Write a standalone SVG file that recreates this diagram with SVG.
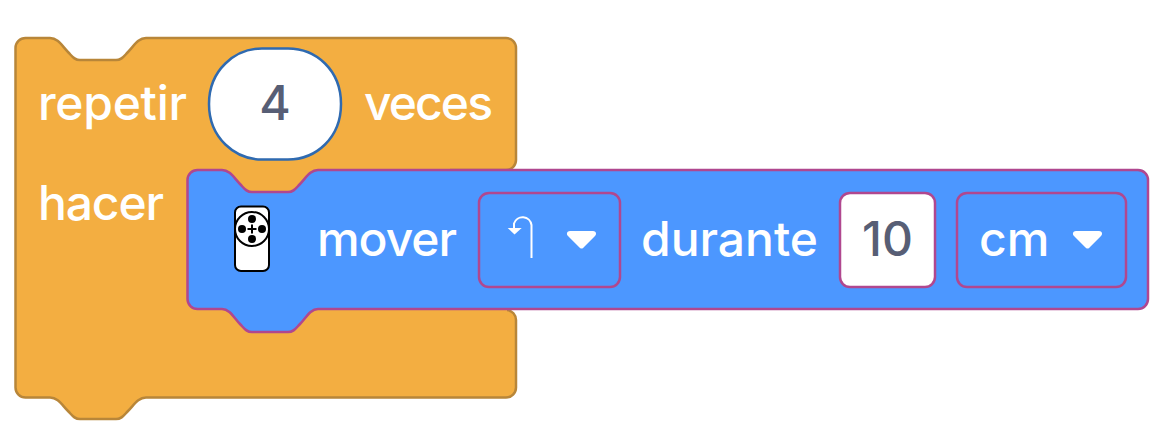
<svg xmlns="http://www.w3.org/2000/svg" width="1166" height="444" viewBox="0 0 1166 444">
<style>
text{font-family:"Inter","Liberation Sans",sans-serif;font-size:48px;font-weight:500}
.w{fill:#fff}.d{fill:#575e75;text-anchor:middle}
.of{fill:#f3ae41;stroke:none}.os{fill:none;stroke:#b88639;stroke-width:2.5}
.bl{fill:#4c97ff;stroke:#b0478f;stroke-width:2.5}
.dd{fill:none;stroke:#b0478f;stroke-width:2.5}
.num{fill:#fff;stroke:#b0478f;stroke-width:2.5}
</style>
<g id="repeat-block">
<path class="of" d="M15.5 48a10 10 0 0 1 10-10H50C58 38 62 46 68 52C72 56 74 60 80 60H116C122 60 124 56 128 52C134 46 138 38 146 38H506a10 10 0 0 1 10 10V160a10 10 0 0 1-10 10H400V310H506a10 10 0 0 1 10 10V387.500a10 10 0 0 1-10 10H146C138 397.500 134 405 128 411C124 415 122 419 116 419H80C74 419 72 415 68 411C62 405 58 397.500 50 397.500H25.500a10 10 0 0 1-10-10Z"/>
<path class="os" d="M450 170H506a10 10 0 0 0 10-10V48a10 10 0 0 0-10-10H146C138 38 134 46 128 52C124 56 122 60 116 60H80C74 60 72 56 68 52C62 46 58 38 50 38H25.500a10 10 0 0 0-10 10V387.500a10 10 0 0 0 10 10H50C58 397.500 62 405 68 411C72 415 74 419 80 419H116C122 419 124 415 128 411C134 405 138 397.500 146 397.500H506a10 10 0 0 0 10-10V320a10 10 0 0 0-9-10"/>
<text class="w" x="38" y="120" textLength="149">repetir</text>
<path d="M209 104C209 70 235 48.500 262 48.500H288C316 48.500 341 70 341 104C341 138 316 159.500 288 159.500H262C235 159.500 209 138 209 104Z" fill="#fff" stroke="#2f6ab0" stroke-width="2.5"/>
<text class="d" x="275" y="120">4</text>
<text class="w" x="364" y="120" textLength="129">veces</text>
<text class="w" x="38" y="220" textLength="126">hacer</text>
</g>
<g id="move-block">
<path class="bl" d="M187.500 180a10 10 0 0 1 10-10H222C230 170 234 178 240 184C244 188 246 192 252 192H288C294 192 296 188 300 184C306 178 310 170 318 170H1138a10 10 0 0 1 10 10V299a10 10 0 0 1-10 10H318C310 309 306 318 300 324C296 328 294 332 288 332H252C246 332 244 328 240 324C234 318 230 309 222 309H197.500a10 10 0 0 1-10-10Z"/>
<g id="robot-icon">
<rect x="235" y="206.500" width="34" height="64.500" rx="6" fill="#fff" stroke="#000" stroke-width="2"/>
<circle cx="252" cy="229" r="17" fill="#fff" stroke="#000" stroke-width="2"/>
<circle cx="252" cy="219" r="4"/><circle cx="252" cy="239" r="4"/><circle cx="242" cy="229" r="4"/><circle cx="262" cy="229" r="4"/>
<path d="M247.500 229H256.500M252 224.500V233.500" stroke="#000" stroke-width="2" fill="none"/>
</g>
<text class="w" x="317" y="256" textLength="140">mover</text>
<g id="direction-dropdown">
<rect class="dd" x="479" y="193" width="141" height="94" rx="10"/>
<path d="M531.500 258V225a9 9 0 0 0-17.500-1.500V228" fill="none" stroke="#fff" stroke-width="2"/>
<path d="M507.700 228H521.700L514.500 234.500Z" fill="#fff"/>
<path d="M570 231H593C596 231 597 234 595 236L584 247C582.500 249 580.500 249 579 247L568 236C566 234 567 231 570 231Z" fill="#fff"/>
</g>
<text class="w" x="641" y="256" textLength="177">durante</text>
<g id="distance-input">
<rect class="num" x="840" y="193" width="95" height="94" rx="10"/>
<text class="d" x="887.500" y="256">10</text>
</g>
<g id="unit-dropdown">
<rect class="dd" x="957" y="193" width="169" height="94" rx="10"/>
<text class="w" x="979" y="256">cm</text>
<path d="M1076 231H1099C1102 231 1103 234 1101 236L1090 247C1088.500 249 1086.500 249 1085 247L1074 236C1072 234 1073 231 1076 231Z" fill="#fff"/>
</g>
</g>
</svg>
